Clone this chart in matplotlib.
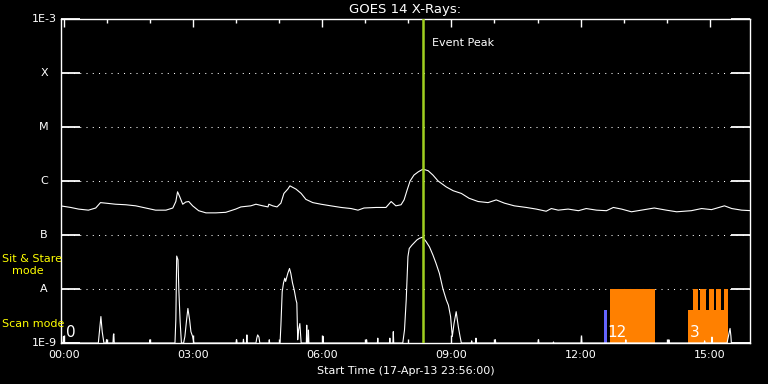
import matplotlib.pyplot as plt
import numpy as np
from matplotlib.ticker import FixedLocator

# time in hours after 18-Apr-13 00:00, flux as log10(W/m^2)
goes_t = [-0.08, 0.16, 0.34, 0.57, 0.74, 0.85, 0.97, 1.20, 1.44, 1.67, 1.90, 2.13, 2.37,
          2.53, 2.60, 2.64, 2.69, 2.76, 2.83, 2.90, 2.99, 3.13, 3.30, 3.53, 3.76, 3.99,
          4.11, 4.34, 4.46, 4.62, 4.74, 4.76, 4.85, 4.95, 5.04, 5.11, 5.20, 5.25, 5.39,
          5.51, 5.62, 5.78, 5.97, 6.20, 6.44, 6.67, 6.83, 6.97, 7.25, 7.48, 7.60, 7.71,
          7.83, 7.90, 7.97, 8.04, 8.13, 8.23, 8.34, 8.46, 8.57, 8.69, 8.88, 9.04, 9.23,
          9.41, 9.62, 9.85, 10.04, 10.23, 10.46, 10.74, 10.97, 11.20, 11.32, 11.48, 11.71,
          11.95, 12.13, 12.37, 12.60, 12.76, 12.95, 13.18, 13.41, 13.71, 13.99, 14.23,
          14.57, 14.81, 15.04, 15.34, 15.51, 15.74, 15.97]
goes_v = [-6.46, -6.49, -6.52, -6.54, -6.50, -6.40, -6.41, -6.43, -6.44, -6.46, -6.50, -6.54, -6.54,
          -6.50, -6.38, -6.20, -6.29, -6.43, -6.39, -6.38, -6.46, -6.55, -6.59, -6.59, -6.58, -6.52,
          -6.48, -6.46, -6.43, -6.46, -6.48, -6.43, -6.46, -6.48, -6.41, -6.23, -6.15, -6.09, -6.15,
          -6.23, -6.34, -6.40, -6.43, -6.46, -6.49, -6.51, -6.54, -6.50, -6.49, -6.49, -6.38, -6.46,
          -6.44, -6.35, -6.17, -6.00, -5.89, -5.83, -5.78, -5.81, -5.89, -6.00, -6.11, -6.18, -6.23,
          -6.32, -6.38, -6.40, -6.35, -6.41, -6.46, -6.49, -6.52, -6.56, -6.51, -6.54, -6.52,
          -6.55, -6.51, -6.54, -6.55, -6.49, -6.52, -6.57, -6.54, -6.50, -6.54, -6.57,
          -6.55, -6.51, -6.53, -6.46, -6.51, -6.54, -6.55]

low_t = [-0.07, -0.02, -0.01, 0.00, 0.80, 0.83, 0.86, 0.89, 0.92, 0.93, 0.98, 0.99, 1.00,
         1.14, 1.15, 1.16, 1.17, 1.99, 2.00, 2.01, 2.58, 2.60, 2.62, 2.65, 2.67, 2.70, 2.73,
         2.78, 2.81, 2.85, 2.88, 2.92, 2.95, 2.99, 3.02, 4.00, 4.01, 4.02, 4.16, 4.17, 4.18,
         4.24, 4.25, 4.26, 4.46, 4.48, 4.50, 4.53, 4.55, 4.76, 4.77, 4.78, 5.02, 5.04, 5.07,
         5.10, 5.13, 5.15, 5.20, 5.24, 5.27, 5.31, 5.35, 5.39, 5.41, 5.43, 5.45, 5.48, 5.51,
         5.63, 5.64, 5.65, 5.67, 5.68, 5.69, 6.01, 6.02, 6.03, 7.02, 7.03, 7.04, 7.28, 7.29,
         7.30, 7.56, 7.57, 7.58, 7.64, 7.65, 7.66, 7.87, 7.91, 7.95, 7.99, 8.02, 8.08, 8.14,
         8.20, 8.26, 8.33, 8.41, 8.49, 8.57, 8.64, 8.72, 8.80, 8.88, 8.93, 8.98, 9.02, 9.06,
         9.11, 9.16, 9.20, 9.23, 9.46, 9.47, 9.48, 9.56, 9.57, 9.58, 10.01, 10.02, 10.03,
         11.01, 11.02, 11.03, 11.36, 11.37, 11.38, 12.01, 12.02, 12.03, 13.04, 13.05, 13.06,
         14.04, 14.05, 14.06, 14.87, 14.88, 14.89, 15.04, 15.05, 15.06, 15.40, 15.41, 15.47,
         15.49, 15.50, 15.97]
low_v = [-9.0, -9.0, -8.88, -9.0, -9.0, -8.76, -8.51, -8.79, -8.94, -9.0, -9.0, -8.94, -9.0,
         -9.0, -8.85, -8.83, -9.0, -9.0, -8.94, -9.0, -9.0, -8.57, -7.39, -7.46, -8.02, -8.61, -9.0,
         -9.0, -8.88, -8.57, -8.36, -8.57, -8.79, -8.88, -9.0, -9.0, -8.94, -9.0, -9.0, -8.93, -9.0,
         -9.0, -8.85, -9.0, -9.0, -8.91, -8.85, -8.89, -9.0, -9.0, -8.94, -9.0, -9.0, -8.67, -8.05,
         -7.89, -7.80, -7.86, -7.71, -7.62, -7.71, -7.89, -8.02, -8.20, -8.26, -8.94, -8.76, -8.64, -9.0,
         -9.0, -8.67, -9.0, -9.0, -8.76, -9.0, -9.0, -8.88, -9.0, -9.0, -8.94, -9.0, -9.0, -8.91,
         -9.0, -9.0, -8.91, -9.0, -9.0, -8.79, -9.0, -9.0, -8.76, -8.20, -7.40, -7.25, -7.19, -7.14,
         -7.09, -7.06, -7.04, -7.12, -7.22, -7.37, -7.52, -7.71, -7.99, -8.20, -8.30, -8.51, -8.88, -8.64,
         -8.42, -8.70, -8.88, -9.0, -9.0, -8.96, -9.0, -9.0, -8.91, -9.0, -9.0, -8.94, -9.0,
         -9.0, -8.94, -9.0, -9.0, -8.98, -9.0, -9.0, -8.89, -9.0, -9.0, -8.94, -9.0,
         -9.0, -8.94, -9.0, -9.0, -8.96, -9.0, -9.0, -8.89, -9.0, -9.0, -8.96, -8.73,
         -8.87, -9.0, -9.0]

# observation blocks (start, end, top log10) and labels
orange_start = [12.69, 14.50, 14.60, 14.78, 14.97, 15.15, 15.32]
orange_end = [13.73, 15.43, 14.72, 14.90, 15.09, 15.27, 15.43]
orange_top = [-8.0, -8.39, -8.0, -8.0, -8.0, -8.0, -8.0]
blue_start = [0.04, 12.55]
blue_end = [0.06, 12.62]
blue_top = [-8.0, -8.39]
obs_labels = ["0", "12", "3"]
obs_label_t = [0.05, 12.62, 14.53]

event_peak = 8.335
class_levels = [-9, -8, -7, -6, -5, -4, -3]
class_names = ["1E-9", "A", "B", "C", "M", "X", "1E-3"]
hour_major = [0, 3, 6, 9, 12, 15]
hour_labels = ["00:00", "03:00", "06:00", "09:00", "12:00", "15:00"]
hour_minor = list(range(0, 16))

t0 = -4 / 60.0

fig = plt.figure(figsize=(7.68, 3.84), dpi=100, facecolor="black")
ax = fig.add_axes([61 / 768, 41 / 384, 689 / 768, 324 / 384], facecolor="black")

# dotted class grid
for lv in class_levels[1:-1]:
    ax.axhline(lv, color="white", lw=0.75, ls=(0, (1, 5)), zorder=1)

for s, e, top in zip(orange_start, orange_end, orange_top):
    ax.fill_between([s, e], -9, top, color="#ff8000", lw=0, zorder=2)
for s, e, top in zip(blue_start, blue_end, blue_top):
    ax.fill_between([s, e], -9, top, color="#6464ff", lw=0, zorder=2)

ax.plot(goes_t, goes_v, color="white", lw=0.8, zorder=3)
ax.plot(low_t, low_v, color="white", lw=0.8, zorder=3)

ax.axvline(event_peak, color="#a0d020", lw=1.8, zorder=4)
ax.text(event_peak + 0.22, -3.44, "Event Peak", color="white", fontsize=8, va="center", ha="left")

for lab, t in zip(obs_labels, obs_label_t):
    ax.text(t, -8.81, lab, color="white", fontsize=11, va="center", ha="left", zorder=5)

ax.set_xlim(t0, t0 + 16)
ax.set_ylim(-9, -3)

for sp in ax.spines.values():
    sp.set_color("white")
    sp.set_linewidth(1)

ax.xaxis.set_major_locator(FixedLocator(hour_major))
ax.xaxis.set_minor_locator(FixedLocator(hour_minor))
ax.set_xticklabels(hour_labels)
ax.tick_params(axis="x", which="major", direction="in", length=6, width=1, colors="white",
               top=True, bottom=True, labelsize=8, pad=5)
ax.tick_params(axis="x", which="minor", direction="in", length=3, width=1, colors="white",
               top=True, bottom=True)

ax.set_yticks(class_levels)
ax.set_yticklabels([])
ax.tick_params(axis="y", which="both", direction="in", length=14, width=1.3, colors="white",
               left=True, right=True)
for lv, name in zip(class_levels, class_names):
    ax.text(-17 / 689, lv, name, transform=ax.get_yaxis_transform(), color="white",
            fontsize=8, ha="center", va="center")

ax.set_xlabel("Start Time (17-Apr-13 23:56:00)", color="white", fontsize=8, labelpad=4)
ax.text(0.5, 1 + 10 / 324, "GOES 14 X-Rays:", transform=ax.transAxes, color="white",
        fontsize=9.5, ha="center", va="center")

fig.text(2 / 768, 1 - 259 / 384, "Sit & Stare", color="yellow", fontsize=8, ha="left", va="center")
fig.text(12 / 768, 1 - 271 / 384, "mode", color="yellow", fontsize=8, ha="left", va="center")
fig.text(2 / 768, 1 - 324 / 384, "Scan mode", color="yellow", fontsize=8, ha="left", va="center")

fig.savefig("out.png", dpi=100, facecolor="black")
